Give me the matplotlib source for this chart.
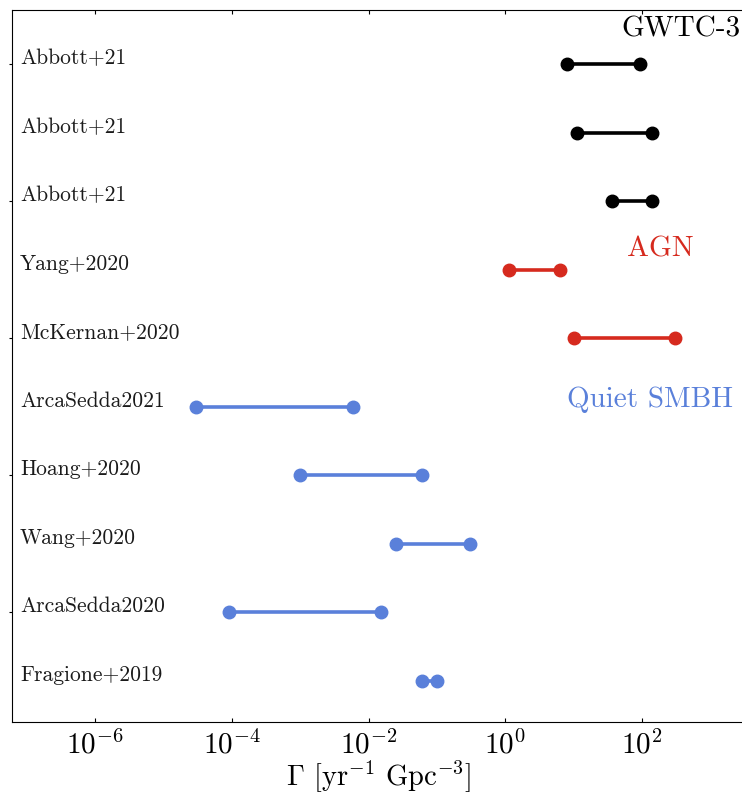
import matplotlib
matplotlib.use("Agg")
import matplotlib.pyplot as plt
import matplotlib.ticker as mticker

plt.rcParams['font.family'] = 'serif'
plt.rcParams['font.serif'] = ['cmr10']
plt.rcParams['mathtext.fontset'] = 'cm'
plt.rcParams['axes.formatter.use_mathtext'] = True
plt.rcParams['axes.unicode_minus'] = False

labels = ["Abbott+21", "Abbott+21", "Abbott+21", "Yang+2020", "McKernan+2020",
          "ArcaSedda2021", "Hoang+2020", "Wang+2020", "ArcaSedda2020", "Fragione+2019"]
low = [8.1, 11.3, 36.0, 1.12, 10.1, 3.0e-5, 1.0e-3, 0.025, 9.0e-5, 0.061]
high = [95.0, 142.0, 142.0, 6.3, 305.0, 6.0e-3, 0.061, 0.30, 0.015, 0.10]
groups = ["GWTC-3", "GWTC-3", "GWTC-3", "AGN", "AGN",
          "Quiet SMBH", "Quiet SMBH", "Quiet SMBH", "Quiet SMBH", "Quiet SMBH"]
group_colors = {"GWTC-3": "black", "AGN": "#d62a1e", "Quiet SMBH": "#5a80da"}
group_text_pos = {"GWTC-3": (50, 9.4), "AGN": (60, 6.19), "Quiet SMBH": (8, 4.0)}
xticks = [1e-6, 1e-4, 1e-2, 1e0, 1e2]

fig = plt.figure(figsize=(7.42, 7.96), dpi=100)
ax = fig.add_axes([12/742, 1 - 722/796, 733/742, 712/796])

n = len(labels)
ypos = [n - 1 - i for i in range(n)]
for i in range(n):
    c = group_colors[groups[i]]
    ax.plot([low[i], high[i]], [ypos[i], ypos[i]], '-o', color=c, lw=2.6,
            ms=9, solid_capstyle='butt')
    ax.text(0.011, ypos[i], labels[i], transform=ax.get_yaxis_transform(),
            ha='left', va='baseline', fontsize=15.5, color='#1a1a1a')

for g, (gx, gy) in group_text_pos.items():
    ax.text(gx, gy, g, color=group_colors[g], fontsize=21, ha='left', va='baseline')

ax.set_xscale('log')
ax.set_xlim(10**-7.22, 10**3.51)
ax.set_ylim(-0.6, 9.79)
ax.set_xticks(xticks)
ax.xaxis.set_minor_locator(mticker.NullLocator())
ax.tick_params(axis='x', which='major', direction='in', top=True, length=3,
               labelsize=21, pad=6)
ax.set_yticks([9, 7, 5, 3, 1])
ax.set_yticklabels([])
ax.tick_params(axis='y', direction='out', length=2)
ax.set_xlabel(r'$\Gamma$ [yr$^{-1}$ Gpc$^{-3}$]', fontsize=20.5, labelpad=0)

fig.savefig("out.png", dpi=100)
